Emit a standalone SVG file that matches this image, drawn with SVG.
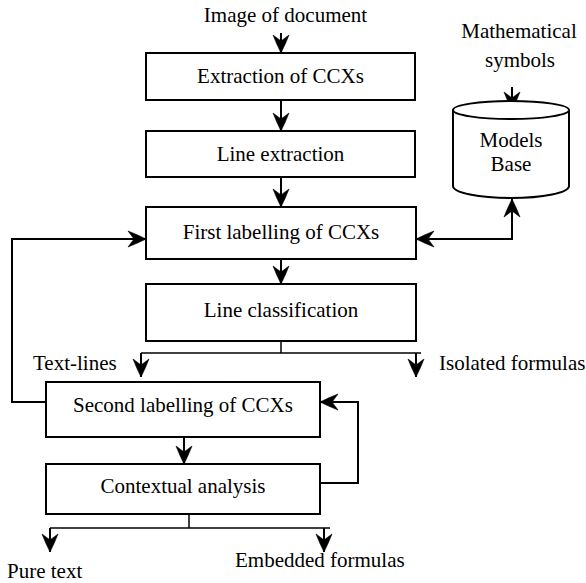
<svg xmlns="http://www.w3.org/2000/svg" width="586" height="583" viewBox="0 0 586 583">
<style>
text{font-family:'Liberation Serif','Times New Roman','DejaVu Serif',serif;font-size:21px;fill:#000}
.c{text-anchor:middle}
.box{fill:#fff;stroke:#000;stroke-width:2}
.ln{fill:none;stroke:#000;stroke-width:2}
.thin{fill:none;stroke:#000;stroke-width:1.5}
</style>
<defs>
<marker id="ah" markerUnits="userSpaceOnUse" markerWidth="22" markerHeight="22" viewBox="0 0 22 22" refX="20" refY="11" orient="auto-start-reverse">
<path d="M20,11 Q11,6.5 2,3 L8,11 L2,19 Q11,15.5 20,11 Z" fill="#000" stroke="#000" stroke-width="0.6"/>
</marker>
</defs>
<rect width="586" height="583" fill="#fff"/>
<g id="connectors">
<line class="ln" x1="281" y1="33" x2="281" y2="53" marker-end="url(#ah)"/>
<line class="ln" x1="281" y1="100" x2="281" y2="131" marker-end="url(#ah)"/>
<line class="ln" x1="281" y1="177" x2="281" y2="207" marker-end="url(#ah)"/>
<line class="ln" x1="281" y1="259" x2="281" y2="284" marker-end="url(#ah)"/>
<line class="ln" x1="512" y1="87" x2="512" y2="110" marker-end="url(#ah)"/>
<polyline class="ln" points="416,239 512,239 512,199" marker-start="url(#ah)" marker-end="url(#ah)"/>
<polyline class="ln" points="46,402 12,402 12,239 146,239" marker-end="url(#ah)"/>
<line class="thin" x1="281" y1="341" x2="281" y2="353"/>
<line class="thin" x1="141" y1="353" x2="421" y2="353"/>
<line class="ln" x1="141" y1="353" x2="141" y2="377" marker-end="url(#ah)"/>
<line class="ln" x1="416" y1="353" x2="416" y2="377" marker-end="url(#ah)"/>
<line class="ln" x1="184" y1="437" x2="184" y2="464" marker-end="url(#ah)"/>
<polyline class="ln" points="320,483 358,483 358,402 320,402" marker-end="url(#ah)"/>
<line class="thin" x1="189" y1="514" x2="189" y2="528"/>
<line class="thin" x1="50" y1="528" x2="330" y2="528"/>
<line class="ln" x1="50" y1="528" x2="50" y2="552" marker-end="url(#ah)"/>
<line class="ln" x1="324" y1="528" x2="324" y2="552" marker-end="url(#ah)"/>
</g>
<g id="input"><text class="c" x="285.5" y="22">Image of document</text></g>
<g id="extraction"><rect class="box" x="146" y="53" width="269" height="47"/><text class="c" x="280.5" y="83">Extraction of CCXs</text></g>
<g id="line-extraction"><rect class="box" x="146" y="131" width="269" height="46"/><text class="c" x="280.5" y="161">Line extraction</text></g>
<g id="first-labelling"><rect class="box" x="146" y="207" width="270" height="52"/><text class="c" x="281" y="239">First labelling of CCXs</text></g>
<g id="line-classification"><rect class="box" x="146" y="284" width="270" height="57"/><text class="c" x="281" y="317">Line classification</text></g>
<g id="second-labelling"><rect class="box" x="46" y="382" width="274" height="55"/><text class="c" x="183" y="412">Second labelling of CCXs</text></g>
<g id="contextual"><rect class="box" x="46" y="464" width="274" height="50"/><text class="c" x="183" y="493">Contextual analysis</text></g>
<g id="symbols"><text class="c" x="519" y="38">Mathematical</text><text class="c" x="520" y="67">symbols</text></g>
<g id="models-base">
<path class="box" d="M453,110 L453,186 A58,12 0 0 0 569,186 L569,110 A58,9 0 0 0 453,110 A58,9 0 0 0 569,110"/>
<text class="c" x="511" y="147">Models</text><text class="c" x="511" y="171">Base</text>
</g>
<g id="text-lines"><text x="33" y="370">Text-lines</text></g>
<g id="isolated"><text x="439" y="370">Isolated formulas</text></g>
<g id="embedded"><text x="235" y="567">Embedded formulas</text></g>
<g id="pure-text"><text x="7" y="578">Pure text</text></g>
</svg>
